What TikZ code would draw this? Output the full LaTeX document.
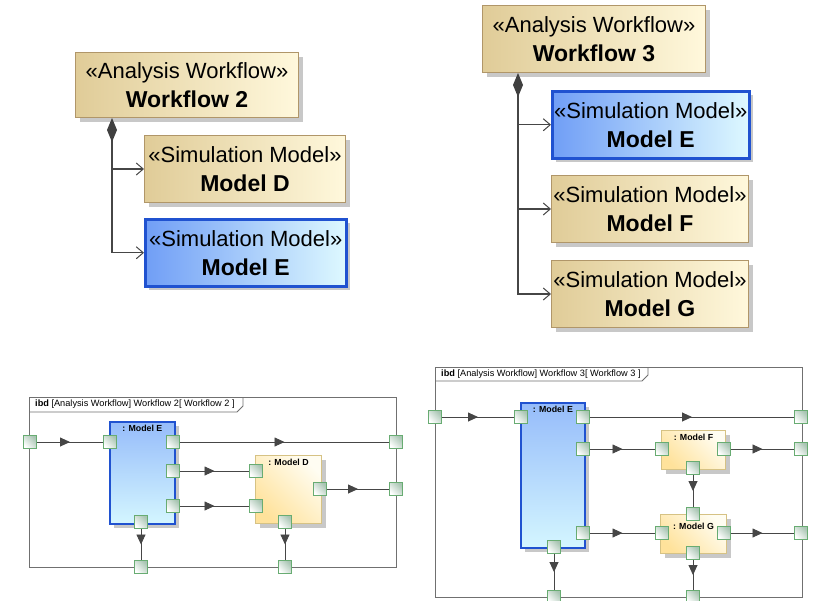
\documentclass[tikz,border=0pt]{standalone}
\usepackage{fontspec}
\setmainfont{Liberation Sans}
\usetikzlibrary{arrows.meta,shadows,decorations.markings,calc}
\definecolor{tanL}{RGB}{224,204,152}
\definecolor{tanR}{RGB}{255,248,220}
\definecolor{tanD}{RGB}{176,150,105}
\definecolor{blueL}{RGB}{112,158,246}
\definecolor{blueR}{RGB}{222,249,255}
\definecolor{blueD}{RGB}{32,82,208}
\definecolor{ibdBT}{RGB}{150,188,250}
\definecolor{ibdBB}{RGB}{212,246,255}
\definecolor{yelL}{RGB}{255,226,155}
\definecolor{yelR}{RGB}{255,253,242}
\definecolor{yelD}{RGB}{214,194,132}
\definecolor{portG}{RGB}{104,172,114}
\definecolor{portF}{RGB}{168,196,178}
\definecolor{lineG}{RGB}{70,70,70}
\definecolor{frameG}{RGB}{112,112,112}
\newcommand{\stereo}[1]{{\fontsize{22}{29}\selectfont #1}}
\newcommand{\bname}[1]{{\fontsize{23}{29}\selectfont\bfseries #1}}
\tikzset{
  shad/.style={drop shadow={shadow xshift=4pt, shadow yshift=-4pt, fill=black!30, opacity=0.7}},
  blk/.style={rectangle, anchor=north west, draw=tanD, line width=1pt, shad,
    left color=tanL, right color=tanR, align=center, inner sep=0pt,
    font=\fontsize{22}{29}\selectfont},
  blkblue/.style={blk, draw=blueD, line width=2.5pt, left color=blueL, right color=blueR},
  comp/.style={draw=lineG, line width=1.4pt,
    {Diamond[length=24pt,width=10pt,color=black!75,fill=black!75]}-{Straight Barb[length=7pt,width=12pt,line width=1pt]}},
  branch/.style={draw=lineG, line width=1.4pt, -{Straight Barb[length=7pt,width=12pt,line width=1pt]}},
  frm/.style={rectangle, anchor=north west, draw=frameG, line width=0.9pt, inner sep=0pt},
  tab/.style={draw=frameG, line width=0.9pt},
  hdr/.style={anchor=west, inner sep=0pt, font=\fontsize{9.2}{11}\selectfont},
  partE/.style={rectangle, anchor=north west, draw=blueD, line width=1.8pt, shad,
    top color=ibdBT, bottom color=ibdBB, inner sep=0pt},
  partY/.style={rectangle, anchor=north west, draw=yelD, line width=1pt, shad,
    left color=yelL, right color=yelR, shading angle=135, inner sep=0pt},
  plab/.style={anchor=north, inner sep=0pt, font=\bfseries\fontsize{8.8}{10}\selectfont},
  port/.style={rectangle, draw=portG, line width=0.9pt, minimum size=13pt, inner sep=0pt,
    left color=white, right color=portF, shading angle=135},
  flow/.style={draw=lineG, line width=0.9pt, postaction={decorate},
    decoration={markings, mark=at position 0.5 with {\arrow{Triangle[length=10pt,width=9pt]}}}},
}
\begin{document}
\begin{tikzpicture}[x=1pt,y=-1pt]
\useasboundingbox (0,0) rectangle (816,600);
\fill[white] (0,0) rectangle (816,600);

% ---------------- Top left: Workflow 2 ----------------
\node[blk, minimum width=223pt, minimum height=65pt] (wf2) at (75,52)
  {\stereo{«Analysis Workflow»}\\\bname{Workflow 2}};
\node[blk, minimum width=201pt, minimum height=67pt] (mD) at (144,135)
  {\stereo{«Simulation Model»}\\\bname{Model D}};
\node[blkblue, minimum width=201pt, minimum height=67pt] (mE2) at (144,218)
  {\stereo{«Simulation Model»}\\\bname{Model E}};
\coordinate (t2) at ($(wf2.south west)+(37,0)$);
\draw[comp] (t2) -- (t2 |- mE2.west) -- (mE2.west);
\draw[branch] (t2 |- mD.west) -- (mD.west);

% ---------------- Top right: Workflow 3 ----------------
\node[blk, minimum width=223pt, minimum height=67pt] (wf3) at (482,5)
  {\stereo{«Analysis Workflow»}\\\bname{Workflow 3}};
\node[blkblue, minimum width=197pt, minimum height=67pt] (mE3) at (551,90)
  {\stereo{«Simulation Model»}\\\bname{Model E}};
\node[blk, minimum width=197pt, minimum height=67pt] (mF) at (551,175)
  {\stereo{«Simulation Model»}\\\bname{Model F}};
\node[blk, minimum width=197pt, minimum height=67pt] (mG) at (551,260)
  {\stereo{«Simulation Model»}\\\bname{Model G}};
\coordinate (t3) at ($(wf3.south west)+(36,0)$);
\draw[comp] (t3) -- (t3 |- mG.west) -- (mG.west);
\draw[branch] (t3 |- mE3.west) -- (mE3.west);
\draw[branch] (t3 |- mF.west) -- (mF.west);

% ---------------- Bottom left: ibd Workflow 2 ----------------
\node[frm, minimum width=367pt, minimum height=170pt] (f2) at (29,397) {};
\draw[tab] (29,412) -- (237,412) -- (243,406) -- (243,397);
\node[hdr] (h2) at (35,404.5) {\textbf{ibd} [Analysis Workflow] Workflow 2[ Workflow 2 ]};
\node[partE, minimum width=65pt, minimum height=102pt] (e2) at (109,421) {};
\node[plab] (e2l) at ($(e2.north)+(0,3.5)$) {: Model E};
\node[partY, minimum width=66pt, minimum height=68pt] (d2) at (255,455) {};
\node[plab] (d2l) at ($(d2.north)+(0,3.5)$) {: Model D};

\node[port] (a1) at (30,442) {};
\node[port] (a2) at (110,442) {};
\node[port] (a3) at (173,442) {};
\node[port] (a4) at (396,442) {};
\node[port] (a5) at (173,471) {};
\node[port] (a6) at (256,471) {};
\node[port] (a7) at (173,506) {};
\node[port] (a8) at (256,506) {};
\node[port] (a9) at (320,489) {};
\node[port] (a10) at (396,489) {};
\node[port] (a11) at (141,522) {};
\node[port] (a12) at (141,567) {};
\node[port] (a13) at (285,522) {};
\node[port] (a14) at (285,567) {};

\draw[flow] (a1.east) -- (a2.west);
\draw[flow] (a3.east) -- (a4.west);
\draw[flow] (a5.east) -- (a6.west);
\draw[flow] (a7.east) -- (a8.west);
\draw[flow] (a9.east) -- (a10.west);
\draw[flow] (a11.south) -- (a12.north);
\draw[flow] (a13.south) -- (a14.north);

% ---------------- Bottom right: ibd Workflow 3 ----------------
\node[frm, minimum width=367pt, minimum height=230pt] (f3) at (435,367) {};
\draw[tab] (435,381) -- (642,381) -- (648,375) -- (648,367);
\node[hdr] (h3) at (441,374) {\textbf{ibd} [Analysis Workflow] Workflow 3[ Workflow 3 ]};
\node[partE, minimum width=64pt, minimum height=145pt] (e3) at (520,402) {};
\node[plab] (e3l) at ($(e3.north)+(0,3.5)$) {: Model E};
\node[partY, minimum width=64pt, minimum height=39pt] (f3p) at (661,430) {};
\node[plab] (f3l) at ($(f3p.north)+(0,3.5)$) {: Model F};
\node[partY, minimum width=66pt, minimum height=39pt] (g3) at (660,514) {};
\node[plab] (g3l) at ($(g3.north)+(0,9)$) {: Model G};

\node[port] (b1) at (435,417) {};
\node[port] (b2) at (521,417) {};
\node[port] (b3) at (583,417) {};
\node[port] (b4) at (801,417) {};
\node[port] (b5) at (583,449) {};
\node[port] (b6) at (662,449) {};
\node[port] (b7) at (724,449) {};
\node[port] (b8) at (801,449) {};
\node[port] (b9) at (693,468) {};
\node[port] (b10) at (693,514) {};
\node[port] (b11) at (583,533) {};
\node[port] (b12) at (662,533) {};
\node[port] (b13) at (724,533) {};
\node[port] (b14) at (801,533) {};
\node[port] (b15) at (554,547) {};
\node[port] (b16) at (554,597) {};
\node[port] (b17) at (693,553) {};
\node[port] (b18) at (693,597) {};

\draw[flow] (b1.east) -- (b2.west);
\draw[flow] (b3.east) -- (b4.west);
\draw[flow] (b5.east) -- (b6.west);
\draw[flow] (b7.east) -- (b8.west);
\draw[flow] (b9.south) -- (b10.north);
\draw[flow] (b11.east) -- (b12.west);
\draw[flow] (b13.east) -- (b14.west);
\draw[flow] (b15.south) -- (b16.north);
\draw[flow] (b17.south) -- (b18.north);
\end{tikzpicture}
\end{document}
